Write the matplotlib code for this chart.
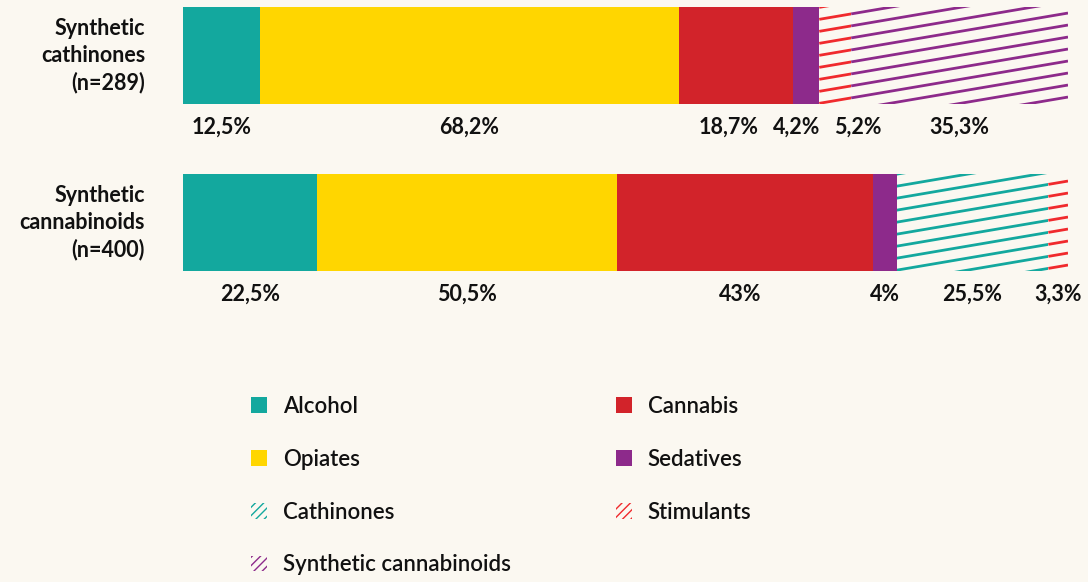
import matplotlib
matplotlib.use("Agg")
import matplotlib.pyplot as plt
from matplotlib.patches import Patch
import numpy as np

# --- data -------------------------------------------------------------
groups = ["Synthetic\ncathinones\n(n=289)", "Synthetic\ncannabinoids\n(n=400)"]
# order of segments in each bar
row_segments = [
    ["Alcohol", "Opiates", "Cannabis", "Sedatives", "Stimulants", "Synthetic cannabinoids"],
    ["Alcohol", "Opiates", "Cannabis", "Sedatives", "Cathinones", "Stimulants"],
]
row_values = [
    [12.5, 68.2, 18.7, 4.2, 5.2, 35.3],
    [22.5, 50.5, 43.0, 4.0, 25.5, 3.3],
]
row_labels = [
    ["12,5%", "68,2%", "18,7%", "4,2%", "5,2%", "35,3%"],
    ["22,5%", "50,5%", "43%", "4%", "25,5%", "3,3%"],
]
legend_order = ["Alcohol", "Opiates", "Cathinones", "Synthetic cannabinoids",
                "Cannabis", "Sedatives", "Stimulants"]

# --- style ------------------------------------------------------------
BG = "#FBF8F1"
colors = {
    "Alcohol": "#13A89E",
    "Opiates": "#FFD600",
    "Cannabis": "#D2232A",
    "Sedatives": "#8D2A8B",
    "Stimulants": "#F02A2D",
    "Cathinones": "#13A89E",
    "Synthetic cannabinoids": "#8D2A8B",
}
hatched = {"Stimulants", "Cathinones", "Synthetic cannabinoids"}
label_shift_px = [[0, 0, -7, -10, 23, 0], [0, 0, -5, 0, 0, 0]]

plt.rcParams["font.family"] = ["Lato", "DejaVu Sans"]
plt.rcParams["hatch.linewidth"] = 1.0

W, H = 1088, 582
fig = plt.figure(figsize=(W / 100, H / 100), dpi=100, facecolor=BG)

bar_left, bar_right = 183, 1068
row_pitch = 167.0
first_center = 55.5
ax = fig.add_axes([bar_left / W, 0, (bar_right - bar_left) / W, 1])
ax.set_facecolor("none")
ax.set_xlim(0, 1)
ax.set_ylim((H - first_center) / row_pitch, -first_center / row_pitch)
ax.axis("off")

bar_h = 97 / row_pitch
px_y = 1 / row_pitch
px_x = 1 / (bar_right - bar_left)

for r, (segs, vals, labs) in enumerate(zip(row_segments, row_values, row_labels)):
    vals = np.array(vals)
    fracs = vals / vals.sum()
    lefts = np.concatenate([[0], np.cumsum(fracs)[:-1]])
    for i, (seg, f, lft, lab) in enumerate(zip(segs, fracs, lefts, labs)):
        if seg in hatched:
            bars = ax.barh(r, f, left=lft, height=bar_h, color="none", edgecolor="none")
            rect = bars.patches[0]
            # shallow stripes, continuous pattern across the chart
            slope = -0.17 * (bar_right - bar_left) / row_pitch
            spacing = 12 * px_y
            xs = np.array([lft, lft + f])
            for k in np.arange(-10, 60):
                ys = k * spacing + slope * xs
                ln, = ax.plot(xs, ys, color=colors[seg], lw=2.0,
                              solid_capstyle="butt")
                ln.set_clip_path(rect)
        else:
            ax.barh(r, f, left=lft, height=bar_h, color=colors[seg], edgecolor="none")
        ax.annotate(lab, (lft + f / 2, r + 72 * px_y),
                    xytext=(label_shift_px[r][i] * 0.72, 0), textcoords="offset points",
                    ha="center", va="center", fontsize=15.5, fontweight="bold",
                    color="#111111")
    ax.text(-38 * px_x, r, groups[r], ha="right", va="center", fontsize=15.5,
            fontweight="bold", color="#111111", linespacing=1.35)

# --- legend -----------------------------------------------------------
handles = []
for name in legend_order:
    if name in hatched:
        handles.append(Patch(facecolor="none", edgecolor=colors[name], hatch="////",
                             linewidth=0, label=name))
    else:
        handles.append(Patch(facecolor=colors[name], edgecolor="none", label=name))
fs = 16
fs_px = fs * 100 / 72
leg = fig.legend(handles=handles, ncol=2, loc="upper left",
                 bbox_to_anchor=(251 / W, 1 - 396 / H), frameon=False,
                 fontsize=fs, borderpad=0, borderaxespad=0,
                 handlelength=16 / fs_px, handleheight=16 / fs_px,
                 handletextpad=16 / fs_px,
                 labelspacing=(54 - fs_px) / fs_px, columnspacing=105 / fs_px)
for t in leg.get_texts():
    t.set_color("#111111")
    t.set_fontweight("semibold")

fig.savefig("out.png", dpi=100, facecolor=BG)
